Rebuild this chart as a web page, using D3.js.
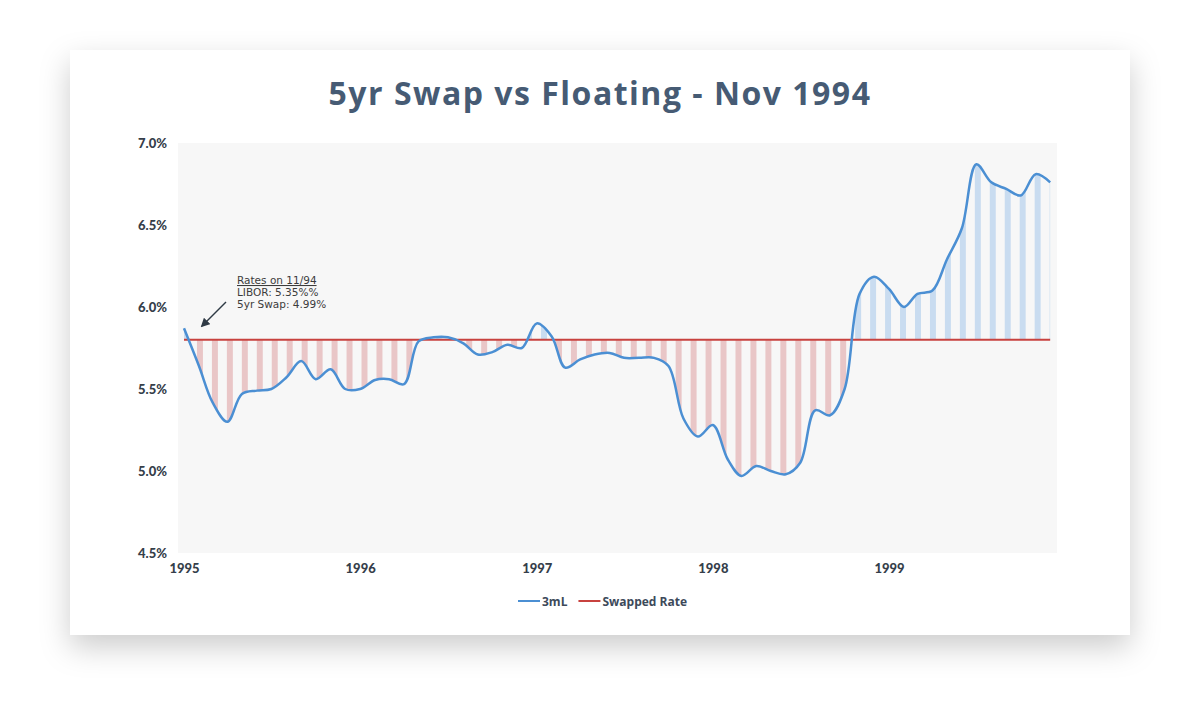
<!DOCTYPE html>
<html>
<head>
<meta charset="utf-8">
<script src="https://cdn.jsdelivr.net/npm/d3@7"></script>
<style>
  body { margin: 0; background: #ffffff; }
  svg { display: block; }
  text { font-family: "Open Sans", Lato, sans-serif; }
</style>
</head>
<body>
<div id="chart"></div>
<script>
// Monthly 3m LIBOR, Jan 1995 - Dec 1999
var startMonth = new Date(1995, 0, 1);
var rates1995 = [5.87, 5.64, 5.42, 5.30, 5.47, 5.49, 5.50, 5.57, 5.67, 5.56, 5.62, 5.50];
var rates1996 = [5.50, 5.555, 5.56, 5.53, 5.79, 5.815, 5.815, 5.78, 5.71, 5.725, 5.77, 5.75];
var rates1997 = [5.90, 5.82, 5.63, 5.68, 5.71, 5.72, 5.69, 5.69, 5.69, 5.64, 5.32, 5.21];
var rates1998 = [5.28, 5.07, 4.97, 5.03, 5.00, 4.98, 5.05, 5.37, 5.34, 5.50, 6.08, 6.185];
var rates1999 = [6.11, 6.00, 6.08, 6.10, 6.29, 6.48, 6.87, 6.76, 6.72, 6.68, 6.81, 6.76];
var swappedRate = 5.80;
var yTicks = [4.5, 5.0, 5.5, 6.0, 6.5, 7.0];
var xTickYears = [1995, 1996, 1997, 1998, 1999];
var noteLines = ["Rates on 11/94", "LIBOR: 5.35%%", "5yr Swap: 4.99%"];
var seriesNames = ["3mL", "Swapped Rate"];

var w = 1200, h = 724;
var plot = { left: 178, right: 1057, top: 143, bottom: 553 };
var blue = "#4b8fd3", red = "#c8423f";

var libor = [].concat(rates1995, rates1996, rates1997, rates1998, rates1999);
var dataset = libor.map(function (v, i) {
    return { date: d3.timeMonth.offset(startMonth, i), value: v };
});

var svg = d3.select("#chart").append("svg")
    .attr("width", w)
    .attr("height", h);

var defs = svg.append("defs");

// soft card shadow
var shadow = defs.append("filter").attr("id", "shadow")
    .attr("x", "-10%").attr("y", "-10%").attr("width", "120%").attr("height", "130%");
shadow.append("feDropShadow")
    .attr("dx", 0).attr("dy", 12)
    .attr("stdDeviation", 15)
    .attr("flood-color", "#000").attr("flood-opacity", 0.2);

svg.append("rect")
    .attr("x", 70).attr("y", 50)
    .attr("width", 1060).attr("height", 585)
    .attr("fill", "#fff")
    .attr("filter", "url(#shadow)");

// Title
svg.append("text")
    .attr("x", 600).attr("y", 105)
    .attr("text-anchor", "middle")
    .attr("fill", "#465b74")
    .style("font-size", "32px")
    .style("font-weight", 700)
    .style("letter-spacing", "1.5px")
    .text("5yr Swap vs Floating - Nov 1994");

// Scales
var xScale = d3.scaleTime()
    .domain([new Date(1995, 0, 1), new Date(1999, 0, 1)])
    .range([184, 889]);

var yScale = d3.scaleLinear()
    .domain([4.5, 7.0])
    .range([plot.bottom, plot.top]);

// plot background
svg.append("rect")
    .attr("x", plot.left).attr("y", plot.top)
    .attr("width", plot.right - plot.left)
    .attr("height", plot.bottom - plot.top)
    .attr("fill", "#f7f7f7");

// Axes
var yAxis = d3.axisLeft(yScale)
    .tickValues(yTicks)
    .tickSize(0)
    .tickPadding(11)
    .tickFormat(function (d) { return d3.format(".1f")(d) + "%"; });

svg.append("g")
    .attr("transform", "translate(" + plot.left + ",0)")
    .call(yAxis)
    .call(function (g) { g.select(".domain").remove(); })
    .selectAll("text")
    .attr("fill", "#353e4a")
    .style("font-size", "13px")
    .style("font-weight", 900)
    .style("font-family", "Lato, sans-serif");

var xAxis = d3.axisBottom(xScale)
    .tickValues(xTickYears.map(function (y) { return new Date(y, 0, 1); }))
    .tickSize(0)
    .tickPadding(11)
    .tickFormat(d3.timeFormat("%Y"));

svg.append("g")
    .attr("transform", "translate(0," + plot.bottom + ")")
    .call(xAxis)
    .call(function (g) { g.select(".domain").remove(); })
    .selectAll("text")
    .attr("fill", "#353e4a")
    .style("font-size", "13px")
    .style("font-weight", 900)
    .style("font-family", "Lato, sans-serif");

// Stripe patterns, one stripe per month
var step = xScale(dataset[1].date) - xScale(dataset[0].date);
var stripeW = 6;
function stripes(id, color) {
    var p = defs.append("pattern")
        .attr("id", id)
        .attr("patternUnits", "userSpaceOnUse")
        .attr("x", xScale(dataset[0].date) - stripeW / 2 + 1)
        .attr("y", 0)
        .attr("width", step)
        .attr("height", h);
    p.append("rect")
        .attr("x", 0).attr("y", 0)
        .attr("width", stripeW).attr("height", h)
        .attr("fill", color);
}
stripes("stripeRed", "#e9c6c7");
stripes("stripeBlue", "#c9dcf0");

var ySwap = yScale(swappedRate);
defs.append("clipPath").attr("id", "clipAbove")
    .append("rect")
    .attr("x", plot.left).attr("y", plot.top)
    .attr("width", plot.right - plot.left).attr("height", ySwap - plot.top);
defs.append("clipPath").attr("id", "clipBelow")
    .append("rect")
    .attr("x", plot.left).attr("y", ySwap)
    .attr("width", plot.right - plot.left).attr("height", plot.bottom - ySwap);

var curve = d3.curveCatmullRom.alpha(0.5);

var area = d3.area()
    .x(function (d) { return xScale(d.date); })
    .y0(ySwap)
    .y1(function (d) { return yScale(d.value); })
    .curve(curve);

svg.append("path")
    .datum(dataset)
    .attr("d", area)
    .attr("fill", "url(#stripeBlue)")
    .attr("clip-path", "url(#clipAbove)");

svg.append("path")
    .datum(dataset)
    .attr("d", area)
    .attr("fill", "url(#stripeRed)")
    .attr("clip-path", "url(#clipBelow)");

// Swapped rate line
svg.append("line")
    .attr("x1", xScale(dataset[0].date))
    .attr("x2", xScale(dataset[dataset.length - 1].date))
    .attr("y1", ySwap).attr("y2", ySwap)
    .attr("stroke", red)
    .attr("stroke-width", 2);

// 3mL line
var line = d3.line()
    .x(function (d) { return xScale(d.date); })
    .y(function (d) { return yScale(d.value); })
    .curve(curve);

svg.append("path")
    .datum(dataset)
    .attr("d", line)
    .attr("fill", "none")
    .attr("stroke", blue)
    .attr("stroke-width", 2.5)
    .attr("stroke-linejoin", "round");

// Annotation
defs.append("marker")
    .attr("id", "arrowHead")
    .attr("viewBox", "0 0 10 10")
    .attr("refX", 8).attr("refY", 5)
    .attr("markerWidth", 6).attr("markerHeight", 6)
    .attr("orient", "auto")
    .append("path")
    .attr("d", "M0,0 L10,5 L0,10 z")
    .attr("fill", "#2f3a45");

svg.append("line")
    .attr("x1", 226).attr("y1", 302)
    .attr("x2", 202).attr("y2", 326)
    .attr("stroke", "#2f3a45")
    .attr("stroke-width", 1.5)
    .attr("marker-end", "url(#arrowHead)");

svg.append("g")
    .selectAll("text")
    .data(noteLines)
    .enter().append("text")
    .attr("x", 237)
    .attr("y", function (d, i) { return 284 + i * 11.8; })
    .attr("fill", "#3c3c3c")
    .style("font-size", "10.5px")
    .style("font-family", "'DejaVu Sans', sans-serif")
    .style("text-decoration", function (d, i) { return i === 0 ? "underline" : null; })
    .text(function (d) { return d; });

// Legend
var legend = svg.append("g").attr("transform", "translate(0,601)");
var legendColors = [blue, red];
var lx = 518;
seriesNames.forEach(function (name, i) {
    legend.append("line")
        .attr("x1", lx).attr("x2", lx + 22)
        .attr("y1", 0).attr("y2", 0)
        .attr("stroke", legendColors[i])
        .attr("stroke-width", 2);
    var t = legend.append("text")
        .attr("x", lx + 24).attr("y", 4.5)
        .attr("fill", "#3d4a5a")
        .style("font-size", "12px")
        .style("font-weight", 700)
        .text(name);
    lx += 24 + t.node().getComputedTextLength() + 11;
});
</script>
</body>
</html>
